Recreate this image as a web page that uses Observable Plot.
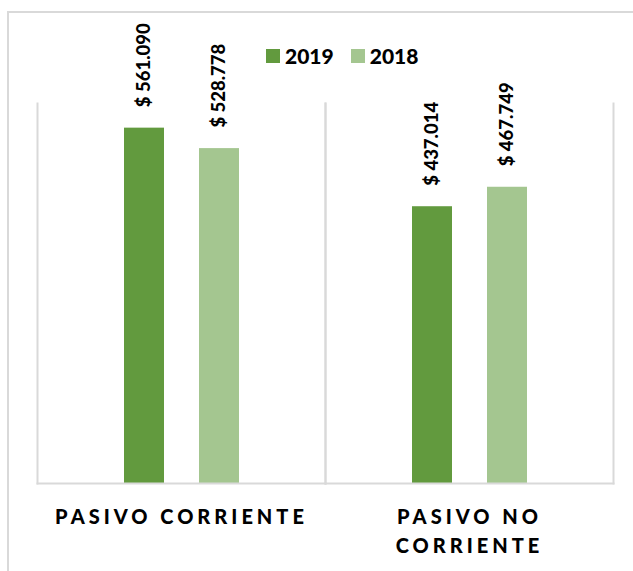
<!DOCTYPE html>
<html>
<head>
<meta charset="utf-8">
<script src="https://cdn.jsdelivr.net/npm/d3@7"></script>
<script src="https://cdn.jsdelivr.net/npm/@observablehq/plot@0.6"></script>
<style>
  html, body { margin: 0; padding: 0; background: #fff; }
  #wrap { position: relative; width: 633px; height: 571px; overflow: hidden; background: #fff; font-family: Lato, sans-serif; }
  #border { position: absolute; left: 7px; top: 11px; width: 700px; height: 700px; border-top: 2px solid #d9d9d9; border-left: 2px solid #d9d9d9; box-sizing: border-box; }
  #chart { position: absolute; left: 0; top: 0; }
  #legend { position: absolute; left: 266px; top: 43px; }
  .lg-swatches { font-family: Lato, sans-serif !important; font-size: 21px !important; font-weight: 900 !important; color: #000; margin: 0 !important; min-height: 0 !important; }
  .lg-swatch { margin-right: 17px !important; }
  .lg-swatch > svg { margin-right: 5px !important; }
  #chart svg g[aria-label="fx-axis tick label"] text { letter-spacing: 4px; }
</style>
</head>
<body>
<div id="wrap">
  <div id="border"></div>
  <div id="chart"></div>
  <div id="legend"></div>
</div>
<script>
const categories = ["PASIVO CORRIENTE", "PASIVO NO CORRIENTE"];
const categoryLabels = ["PASIVO CORRIENTE", "PASIVO NO\nCORRIENTE"];
const years = ["2019", "2018"];
const values2019 = [561090, 437014];
const values2018 = [528778, 467749];
const colors = ["#629a3e", "#a4c690"];

const rows = [];
categories.forEach((c, i) => {
  rows.push({category: c, year: "2019", value: values2019[i]});
  rows.push({category: c, year: "2018", value: values2018[i]});
});
const labelOf = new Map(categories.map((c, i) => [c, categoryLabels[i]]));
const fmtNum = v => "$ " + d3.format(",")(v).replace(/,/g, ".");

const chart = Plot.plot({
  width: 633,
  height: 571,
  marginLeft: 37,
  marginRight: 20,
  marginTop: 103,
  marginBottom: 88,
  style: {background: "transparent", fontFamily: "Lato, sans-serif", color: "#000"},
  fx: {domain: categories, padding: 0, label: null},
  x: {domain: years, paddingInner: 0.4667, paddingOuter: 1.153, axis: null},
  y: {domain: [0, 600000], axis: null},
  color: {domain: years, range: colors},
  marks: [
    Plot.barY(rows, {fx: "category", x: "year", y: "value", fill: "year"}),
    Plot.frame({anchor: "left", stroke: "#d9d9d9", strokeWidth: 2, strokeOpacity: 1}),
    Plot.frame({anchor: "right", stroke: "#d9d9d9", strokeWidth: 2, strokeOpacity: 1}),
    Plot.frame({anchor: "bottom", stroke: "#d9d9d9", strokeWidth: 2, strokeOpacity: 1}),
    Plot.text(rows, {
      fx: "category", x: "year", y: "value",
      text: d => fmtNum(d.value),
      rotate: -90, textAnchor: "start", lineAnchor: "middle", dy: -21,
      fontSize: 18.5, fontWeight: 900, fill: "#000"
    }),
    Plot.axisFx({
      anchor: "bottom", label: null, tickSize: 0, tickPadding: 20,
      tickFormat: d => labelOf.get(d),
      fontSize: 20, fontWeight: 900, lineHeight: 1.45, fill: "#000"
    })
  ]
});
document.getElementById("chart").appendChild(chart);

const legend = Plot.legend({
  color: {domain: years, range: colors},
  legend: "swatches",
  swatchSize: 14,
  className: "lg"
});
document.getElementById("legend").appendChild(legend);
</script>
</body>
</html>
